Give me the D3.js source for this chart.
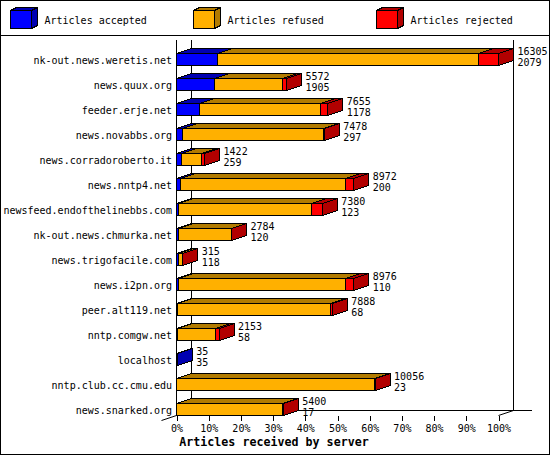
<!DOCTYPE html>
<html>
<head>
<meta charset="utf-8">
<script src="https://cdnjs.cloudflare.com/ajax/libs/d3/7.8.5/d3.min.js"></script>
<style>
  body { margin: 0; background: #fff; }
  svg { display: block; }
  text { font-family: "DejaVu Sans Mono", monospace; font-size: 10px; fill: #000; }
</style>
</head>
<body>
<div id="chart"></div>
<script>
let servers = ["nk-out.news.weretis.net", "news.quux.org", "feeder.erje.net", "news.novabbs.org",
    "news.corradoroberto.it", "news.nntp4.net", "newsfeed.endofthelinebbs.com", "nk-out.news.chmurka.net",
    "news.trigofacile.com", "news.i2pn.org", "peer.alt119.net", "nntp.comgw.net", "localhost",
    "nntp.club.cc.cmu.edu", "news.snarked.org"];
let totals = [16305, 5572, 7655, 7478, 1422, 8972, 7380, 2784, 315, 8976, 7888, 2153, 35, 10056, 5400];
let accepted = [2079, 1905, 1178, 297, 259, 200, 123, 120, 118, 110, 68, 58, 35, 23, 17];
let refused = [13236, 3467, 6097, 7171, 983, 8362, 6697, 2659, 192, 8456, 7750, 1925, 0, 10023, 5373];
let rejected = [990, 200, 380, 10, 180, 410, 560, 5, 5, 410, 70, 170, 0, 10, 10];
let legendLabels = ["Articles accepted", "Articles refused", "Articles rejected"];
let frontColors = ["#0000ff", "#ffb000", "#ff0000"];
let topColors = ["#0000b2", "#b27b00", "#b20000"];
let percentTicks = [0, 10, 20, 30, 40, 50, 60, 70, 80, 90, 100];
let axisTitle = "Articles received by server";

let svgWidth = 550;
let svgHeight = 455;
let depthX = 15;
let depthY = 5;
let barHeight = 12;

let svg = d3.select("#chart").append("svg")
    .attr("width", svgWidth)
    .attr("height", svgHeight);

let maxTotal = d3.max(totals);

let x = d3.scaleLinear().domain([0, 100]).range([176.5, 498.5]);
let y = d3.scalePoint().domain(servers).range([59.5, 409.5]);

function snap(v) {
    return Math.floor(v) + 0.5;
}

// box made of a top, a side and a front face
function drawBox(group, x0, x1, yTop, h, dx, dy, i) {
    let poly = (pts, fill) => group.append("polygon")
        .attr("points", pts.map(p => p.join(",")).join(" "))
        .attr("fill", fill)
        .attr("stroke", "#000")
        .attr("stroke-linejoin", "miter")
        .attr("shape-rendering", "crispEdges");

    poly([[x0, yTop], [x0 + dx, yTop - dy], [x1 + dx, yTop - dy], [x1, yTop]], topColors[i]);
    poly([[x1, yTop], [x1 + dx, yTop - dy], [x1 + dx, yTop + h - dy], [x1, yTop + h]], topColors[i]);
    poly([[x0, yTop], [x1, yTop], [x1, yTop + h], [x0, yTop + h]], frontColors[i]);
}

// frame
svg.append("rect")
    .attr("x", 0.5).attr("y", 0.5)
    .attr("width", svgWidth - 1).attr("height", svgHeight - 1)
    .attr("fill", "#fff").attr("stroke", "#000");

svg.append("line")
    .attr("x1", 0).attr("x2", svgWidth)
    .attr("y1", 35.5).attr("y2", 35.5)
    .attr("stroke", "#000");

// legend
let legendX = [10.5, 193.5, 376.5];
legendLabels.forEach(function(label, i) {
    let g = svg.append("g");
    drawBox(g, legendX[i], legendX[i] + 21, 10.5, 18, 6, 3, i);
    g.append("text")
        .attr("x", legendX[i] + 34)
        .attr("y", 23.5)
        .text(label);
});

// walls behind the bars
let walls = svg.append("g").attr("stroke", "#000").attr("shape-rendering", "crispEdges");
let floorY = 410.5;
[[x(0), 40, x(0), 415.5], [x(0) + depthX, 40, x(0) + depthX, floorY],
 [x(100) + depthX, 40, x(100) + depthX, floorY], [x(0) + depthX, floorY, 531.5, floorY]]
    .forEach(function(l) {
        walls.append("line").attr("x1", l[0]).attr("y1", l[1]).attr("x2", l[2]).attr("y2", l[3]);
    });

svg.append("line")
    .attr("x1", x(0) - depthX).attr("y1", 420.5)
    .attr("x2", x(0) + depthX).attr("y2", floorY)
    .attr("stroke", "#000");
svg.append("line")
    .attr("x1", x(100)).attr("y1", 415.5)
    .attr("x2", x(100) + depthX).attr("y2", floorY)
    .attr("stroke", "#000");

// bars
servers.forEach(function(server, r) {
    let g = svg.append("g").attr("class", "row");
    let yTop = y(server) - barHeight / 2;
    let start = 0;
    [accepted[r], refused[r], rejected[r]].forEach(function(count, i) {
        if (count === 0) return;
        let end = start + count;
        let x0 = snap(x(start / maxTotal * 100));
        let x1 = snap(x(end / maxTotal * 100));
        drawBox(g, x0, x1, yTop, barHeight, depthX, depthY, i);
        start = end;
    });

    let labelX = x(totals[r] / maxTotal * 100) + depthX + 4;
    g.append("text").attr("x", labelX).attr("y", yTop + 1).text(totals[r]);
    g.append("text").attr("x", labelX).attr("y", yTop + 12).text(accepted[r]);

    g.append("text")
        .attr("x", 172)
        .attr("y", yTop + 10)
        .attr("text-anchor", "end")
        .text(server);
});

// x axis
let bottomAxis = d3.axisBottom(x)
    .tickValues(percentTicks)
    .tickFormat(d => d + "%")
    .tickSize(5);

let xaxis = svg.append("g")
    .attr("transform", "translate(0, 415.5)")
    .call(bottomAxis);

xaxis.select(".domain").remove();
xaxis.selectAll("line").attr("stroke", "#000").attr("shape-rendering", "crispEdges");
xaxis.selectAll("text")
    .attr("y", 16.5)
    .attr("dy", null)
    .attr("font-family", null)
    .style("font-size", "10px");
xaxis.attr("font-size", null).attr("font-family", null);

svg.append("text")
    .attr("x", 274)
    .attr("y", 446)
    .attr("text-anchor", "middle")
    .style("font-weight", "bold")
    .style("font-size", "11.67px")
    .text(axisTitle);
</script>
</body>
</html>
